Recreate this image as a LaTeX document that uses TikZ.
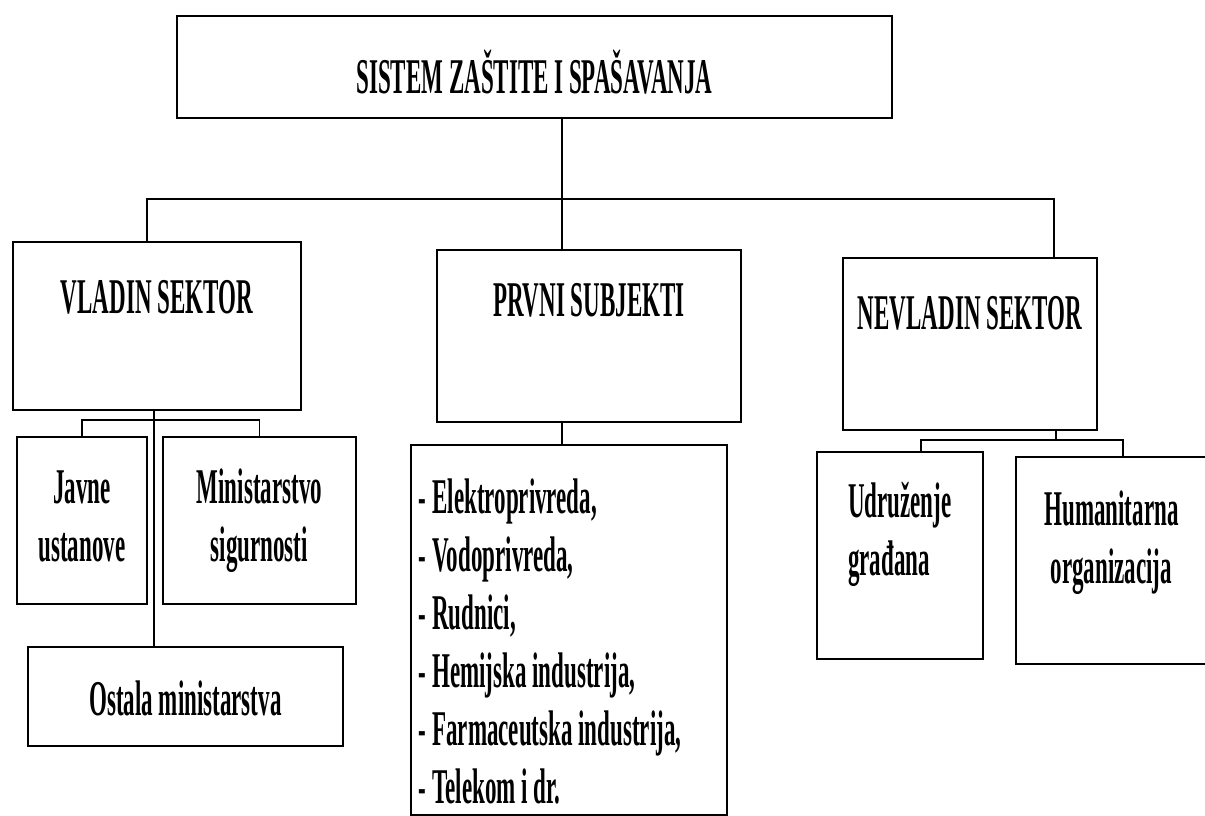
\documentclass[tikz,border=0pt]{standalone}
\usepackage{fontspec}
\usepackage{tikz}
\usetikzlibrary{positioning}
\newfontfamily\orgfont[FakeStretch=0.46]{Liberation Serif}
\tikzset{
    unit/.style={draw, line width=1.8pt, inner sep=0pt, anchor=north west, align=center,
        font=\orgfont\bfseries\fontsize{50}{58}\selectfont},
    link/.style={line width=1.5pt}
}

\begin{document}
\begin{tikzpicture}[x=1pt, y=-1pt]
    \useasboundingbox (0,0) rectangle (1205,816);

    % Top
    \node[unit, minimum width=715pt, text height=78pt, text depth=24pt] (sistem) at (176,15) {SISTEM ZAŠTITE I SPAŠAVANJA};

    % Sectors
    \node[unit, minimum width=288pt, text height=72pt, text depth=96pt] (vladin) at (12,241) {VLADIN SEKTOR};
    \node[unit, minimum width=304pt, text height=67pt, text depth=105pt] (prvni) at (436,249) {PRVNI SUBJEKTI};
    \node[unit, minimum width=254pt, text height=72pt, text depth=100pt] (nevladin) at (842,257) {NEVLADIN SEKTOR};

    % Under VLADIN SEKTOR
    \node[unit, minimum width=130pt, text height=125pt, text depth=42pt] (javne) at (16,436) {Javne\\ustanove};
    \node[unit, minimum width=193pt, text height=125pt, text depth=42pt] (ministarstvo) at (162,436) {Ministarstvo\\sigurnosti};
    \node[unit, minimum width=315pt, text height=69pt, text depth=30pt] (ostala) at (27,646) {Ostala ministarstva};

    % Under PRVNI SUBJEKTI
    \node[unit, align=flush left, text width=300pt, inner xsep=8pt, text height=69pt, text depth=301pt] (lista) at (410,444)
        {- Elektroprivreda,\\- Vodoprivreda,\\- Rudnici,\\- Hemijska industrija,\\- Farmaceutska industrija,\\- Telekom i dr.};

    % Under NEVLADIN SEKTOR (right box runs off the page)
    \node[unit, align=left, minimum width=166pt, text height=124pt, text depth=83pt] (udruzenje) at (816,451) {Udruženje\\građana};
    \node[unit, minimum width=215pt, text height=127pt, text depth=80pt] (humanitarna) at (1015,456)
        {Humanitarna\hspace*{24pt}\\organizacija\hspace*{24pt}};

    % Bus points
    \coordinate (hub) at (562,199);
    \coordinate (busL) at (147,199);
    \coordinate (busR) at (1054,199);
    \coordinate (vlDrop) at (154,420);
    \coordinate (nvBar) at (1056,440);
    \coordinate (nvL) at (921,440);
    \coordinate (nvR) at (1123,440);

    % Connectors
    \draw[link] (sistem.south -| hub) -- (hub |- prvni.north);
    \draw[link] (busL |- vladin.north) -- (busL) -- (busR) -- (busR |- nevladin.north);
    \draw[link] (vladin.south -| vlDrop) -- (vlDrop |- ostala.north);
    \draw[link] (javne.north) -- (javne.north |- vlDrop) -- (ministarstvo.north |- vlDrop) -- (ministarstvo.north);
    \draw[link] (prvni.south -| hub) -- (hub |- lista.north);
    \draw[link] (nevladin.south -| nvBar) -- (nvBar);
    \draw[link] (nvL |- udruzenje.north) -- (nvL) -- (nvR) -- (nvR |- humanitarna.north);

\end{tikzpicture}
\end{document}
